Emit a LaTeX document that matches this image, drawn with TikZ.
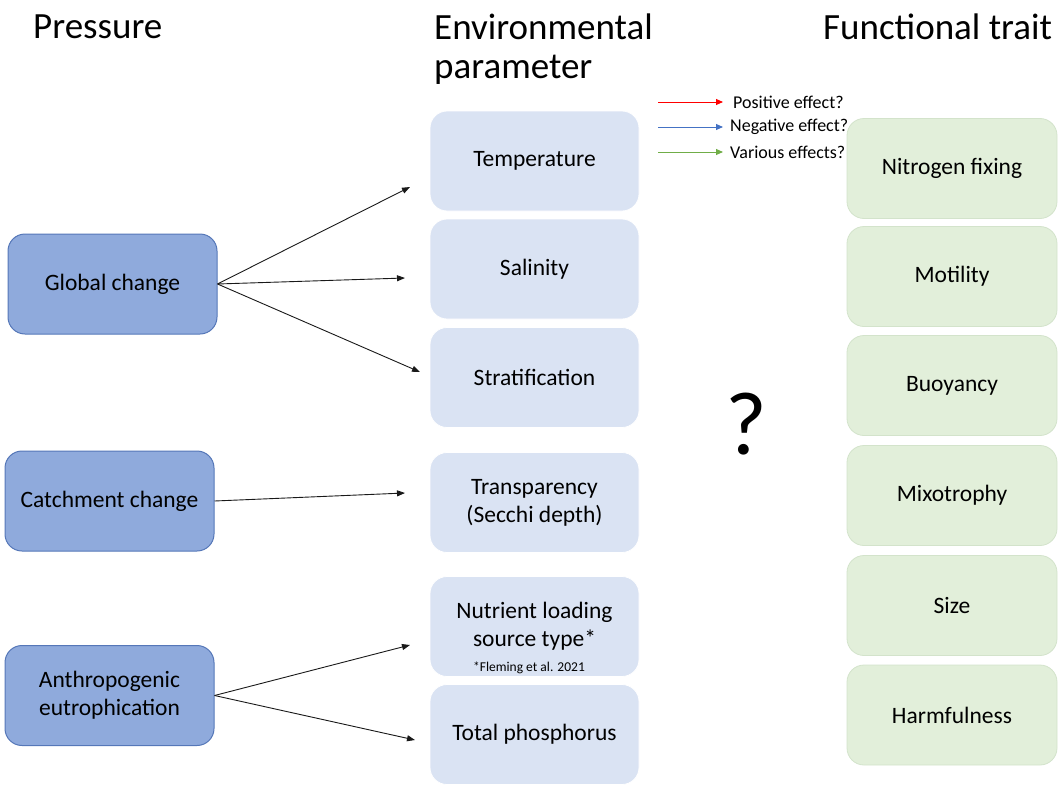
\documentclass[tikz,border=0pt]{standalone}
\usepackage{fontspec}
\setmainfont{Carlito}
\usetikzlibrary{arrows.meta}
\definecolor{pressfill}{HTML}{8FAADC}
\definecolor{pressdraw}{HTML}{5577B8}
\definecolor{envfill}{HTML}{DAE3F3}
\definecolor{traitfill}{HTML}{E2EFDA}
\definecolor{traitdraw}{HTML}{D3E3CB}
\definecolor{posred}{HTML}{FF0000}
\definecolor{negblue}{HTML}{4472C4}
\definecolor{vargreen}{HTML}{70AD47}
\tikzset{
  boxbase/.style={rounded corners=17pt, minimum width=209pt, minimum height=100pt, align=center, inner sep=2pt, font=\fontsize{23.5}{28}\selectfont},
  pressbox/.style={boxbase, fill=pressfill, draw=pressdraw, line width=1pt},
  envbox/.style={boxbase, fill=envfill, draw=white, line width=0.8pt},
  traitbox/.style={boxbase, fill=traitfill, draw=traitdraw, line width=0.8pt, minimum width=210pt},
  header/.style={anchor=west, font=\fontsize{37}{41}\selectfont, inner sep=0pt},
  link/.style={draw=black!90, line width=0.9pt, -{Triangle[length=8pt,width=6pt]}},
  legendtext/.style={anchor=west, font=\fontsize{18}{21}\selectfont, inner sep=0pt},
}
\begin{document}
\begin{tikzpicture}[x=1pt,y=-1pt]
\useasboundingbox (0,0) rectangle (1059,784);
% headers
\node[header] (hpress) at (33,27) {Pressure};
\node[header] (henv) at (434,27) {Environmental};
\node[header] (hpar) at (434,70) {parameter};
\node[header] (htrait) at (823,27) {Functional trait};
% pressure boxes
\node[pressbox] (gc) at (112.5,284) {Global change};
\node[pressbox] (cc) at (109.5,501) {Catchment change};
\node[pressbox] (ae) at (109.5,695.5) {Anthropogenic\\eutrophication};
% environmental boxes
\node[envbox] (temp) at (534.5,161) {Temperature};
\node[envbox] (sal) at (534.5,269) {Salinity};
\node[envbox] (strat) at (534.5,377.5) {Stratification};
\node[envbox] (trans) at (534.5,502.5) {Transparency\\(Secchi depth)};
\node[envbox] (nut) at (534.5,626.5) {Nutrient loading\\source type*};
\node[envbox] (tp) at (534.5,734.5) {Total phosphorus};
\node[font=\fontsize{13.5}{16}\selectfont, inner sep=0pt] (foot) at (529,668) {*Fleming et al. 2021};
% trait boxes
\node[traitbox] (nf) at (952,168.5) {Nitrogen fixing};
\node[traitbox] (mot) at (952,276.5) {Motility};
\node[traitbox] (buoy) at (952,385.5) {Buoyancy};
\node[traitbox] (mix) at (952,495.5) {Mixotrophy};
\node[traitbox] (size) at (952,605.5) {Size};
\node[traitbox] (harm) at (952,715) {Harmfulness};
% question mark
\node[font=\fontsize{90}{90}\selectfont, inner sep=0pt] (q) at (746,424) {?};
% arrow end points
\coordinate (e1) at (410,187);
\coordinate (e2) at (405,278);
\coordinate (e3) at (420,372);
\coordinate (e4) at (405,493);
\coordinate (e5) at (410,645);
\coordinate (e6) at (415,740);
\draw[link] (gc.east) -- (e1);
\draw[link] (gc.east) -- (e2);
\draw[link] (gc.east) -- (e3);
\draw[link] (cc.east) -- (e4);
\draw[link] (ae.east) -- (e5);
\draw[link] (ae.east) -- (e6);
% legend
\coordinate (l1s) at (658,102); \coordinate (l1e) at (723,102);
\coordinate (l2s) at (658,127); \coordinate (l2e) at (723,127);
\coordinate (l3s) at (658,152); \coordinate (l3e) at (723,152);
\draw[posred, line width=0.9pt, -{Triangle[length=7pt,width=6pt]}] (l1s) -- (l1e);
\draw[negblue, line width=0.9pt, -{Triangle[length=7pt,width=6pt]}] (l2s) -- (l2e);
\draw[vargreen, line width=0.9pt, -{Triangle[length=7pt,width=6pt]}] (l3s) -- (l3e);
\node[legendtext] (lt1) at (733,102) {Positive effect?};
\node[legendtext] (lt2) at (730,127) {Negative effect?};
\node[legendtext] (lt3) at (730,152) {Various effects?};
\end{tikzpicture}
\end{document}
